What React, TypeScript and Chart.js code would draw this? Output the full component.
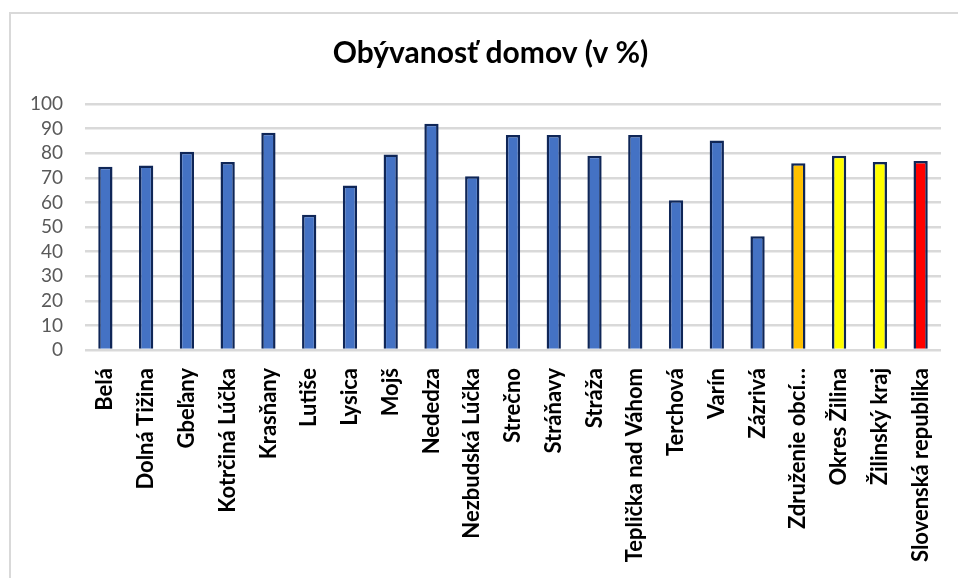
import React, { useEffect, useRef } from "react";
import { Chart, registerables } from "chart.js";

Chart.register(...registerables);

const categories: string[] = [
  "Belá",
  "Dolná Tižina",
  "Gbeľany",
  "Kotrčiná Lúčka",
  "Krasňany",
  "Lutiše",
  "Lysica",
  "Mojš",
  "Nededza",
  "Nezbudská Lúčka",
  "Strečno",
  "Stráňavy",
  "Stráža",
  "Teplička nad Váhom",
  "Terchová",
  "Varín",
  "Zázrivá",
  "Združenie obcí…",
  "Okres Žilina",
  "Žilinský kraj",
  "Slovenská republika",
];

const values: number[] = [
  74.5, 75, 80.6, 76.4, 88.3, 55, 66.9, 79.5, 92, 70.6, 87.4, 87.4, 79, 87.4,
  60.9, 85.2, 46.2, 75.9, 79, 76.4, 76.8,
];

const barColors: string[] = [
  "#4472C4", "#4472C4", "#4472C4", "#4472C4", "#4472C4", "#4472C4", "#4472C4",
  "#4472C4", "#4472C4", "#4472C4", "#4472C4", "#4472C4", "#4472C4", "#4472C4",
  "#4472C4", "#4472C4", "#4472C4", "#FFC000", "#FFFF00", "#FFFF00", "#FF0000",
];

const yTicks = { min: 0, max: 100, step: 10 };

const title = "Obývanosť domov (v %)";

const FONT = "Lato, 'Noto Sans', sans-serif";

const frame = {
  id: "frame",
  beforeDraw(chart: any) {
    const ctx = chart.ctx;
    ctx.save();
    ctx.fillStyle = "#ffffff";
    ctx.fillRect(0, 0, chart.width, chart.height);
    ctx.strokeStyle = "#d9d9d9";
    ctx.lineWidth = 2;
    ctx.strokeRect(10, 13, chart.width + 20, chart.height + 20);
    ctx.restore();
  },
  afterLayout(chart: any) {
    const t = chart.titleBlock;
    if (t) {
      t.left += 40;
      t.width = t.right - t.left;
    }
  },
};

export default function App() {
  const ref = useRef<HTMLCanvasElement | null>(null);

  useEffect(() => {
    if (!ref.current) return;
    const chart = new Chart(ref.current, {
      type: "bar",
      data: {
        labels: categories,
        datasets: [
          {
            data: values,
            backgroundColor: barColors,
            borderColor: "#0F2657",
            borderWidth: 2.5,
            barPercentage: 0.35,
            categoryPercentage: 1,
          },
        ],
      },
      options: {
        animation: false,
        responsive: false,
        maintainAspectRatio: false,
        layout: { padding: { left: 0, right: 17, top: 0, bottom: 0 } },
        plugins: {
          legend: { display: false },
          tooltip: { enabled: false },
          title: {
            display: true,
            text: title,
            color: "#000000",
            font: { family: FONT, size: 30, weight: "bold", lineHeight: 1.2 },
            padding: { top: 35, bottom: 33 },
          },
        },
        scales: {
          x: {
            grid: { display: false },
            border: { display: false },
            ticks: {
              autoSkip: false,
              maxRotation: 90,
              minRotation: 90,
              padding: 10,
              color: "#000000",
              font: { family: FONT, size: 22, weight: "bold" },
            },
            afterFit(scale: any) {
              scale.height = 228;
            },
          },
          y: {
            min: yTicks.min,
            max: yTicks.max,
            grid: { color: "#d9d9d9", lineWidth: 2.5, drawTicks: false },
            border: { display: false },
            ticks: {
              autoSkip: false,
              stepSize: yTicks.step,
              padding: 22,
              color: "#595959",
              font: { family: FONT, size: 19, lineHeight: 1 },
            },
            afterFit(scale: any) {
              scale.width = 85;
            },
          },
        },
      },
      plugins: [frame],
    });
    return () => chart.destroy();
  }, []);

  return (
    <div style={{ position: "absolute", left: 0, top: 0, width: 958, height: 578 }}>
      <canvas ref={ref} width={958} height={578} style={{ width: 958, height: 578 }} />
    </div>
  );
}
